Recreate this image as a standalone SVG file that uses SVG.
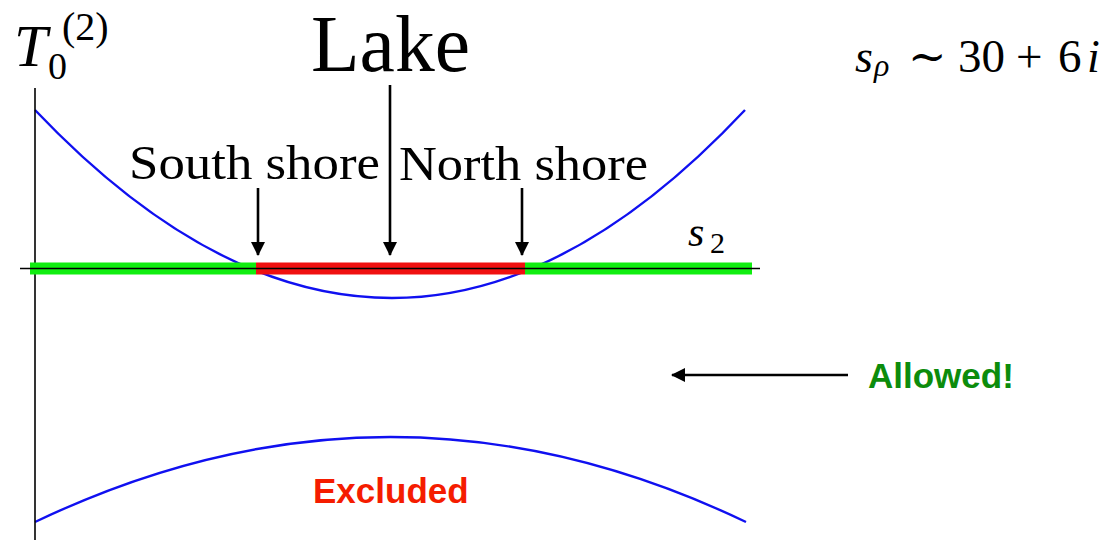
<svg xmlns="http://www.w3.org/2000/svg" width="1111" height="540" viewBox="0 0 1111 540">
<defs>
<style>
.serif{font-family:"Liberation Serif","DejaVu Serif",serif;fill:#000}
.it{font-style:italic}
.sans{font-family:"Liberation Sans",Arial,sans-serif;font-weight:bold}
.axis{stroke:#000;stroke-width:1.6;fill:none}
.curve{stroke:#1010f0;stroke-width:2.4;fill:none}
.arrow{stroke:#000;stroke-width:2.6;fill:none}
.ok{fill:#10ee10}
.bad{fill:#f01010}
</style>
<marker id="ah" viewBox="0 0 14 14" refX="13" refY="7" markerWidth="14" markerHeight="14" markerUnits="userSpaceOnUse" orient="auto">
<path d="M0,0 L14,7 L0,14 Z" fill="#000"/>
</marker>
</defs>
<rect width="1111" height="540" fill="#fff"/>

<g id="plot">
<path class="curve" d="M35,110 Q213.5,298 392,298 Q568.5,298 745,110"/>
<path class="curve" d="M35,522 Q390.5,352 746,522"/>
<line class="axis" x1="35" y1="88" x2="35" y2="540"/>
<rect class="ok" x="30" y="262.5" width="226" height="12"/>
<rect class="ok" x="525" y="262.5" width="227" height="12"/>
<rect class="bad" x="256" y="262.5" width="269" height="12"/>
<line class="axis" x1="20" y1="268.5" x2="760" y2="268.5" stroke-width="1.4"/>
</g>

<g id="connectors">
<line class="arrow" x1="258" y1="188" x2="258" y2="255" marker-end="url(#ah)"/>
<line class="arrow" x1="390" y1="85" x2="390" y2="255" marker-end="url(#ah)"/>
<line class="arrow" x1="522" y1="188" x2="522" y2="255" marker-end="url(#ah)"/>
<line class="arrow" x1="848" y1="375" x2="672" y2="375" marker-end="url(#ah)"/>
</g>

<g id="label-T">
<text class="serif it" x="14" y="66" font-size="60">T</text>
<text class="serif" x="48" y="79" font-size="38">0</text>
<text class="serif" x="62" y="40" font-size="40">(2)</text>
</g>

<g id="label-lake">
<text class="serif" x="311" y="71" font-size="80" textLength="159" lengthAdjust="spacingAndGlyphs">Lake</text>
</g>

<g id="label-south">
<text class="serif" x="129" y="179" font-size="48" textLength="251" lengthAdjust="spacingAndGlyphs">South shore</text>
</g>

<g id="label-north">
<text class="serif" x="399" y="180" font-size="48" textLength="249" lengthAdjust="spacingAndGlyphs">North shore</text>
</g>

<g id="label-s2">
<text class="serif it" x="688" y="246" font-size="42">s</text>
<text class="serif" x="710" y="253" font-size="30">2</text>
</g>

<g id="label-srho">
<text class="serif it" x="855" y="72" font-size="46">s</text>
<text class="serif it" x="874" y="76" font-size="32">ρ</text>
<text class="serif" x="908" y="72" font-size="46">∼</text>
<text class="serif" x="958" y="72" font-size="47">30</text>
<text class="serif" x="1016" y="72" font-size="47">+</text>
<text class="serif" x="1058" y="72" font-size="47">6</text>
<text class="serif it" x="1087" y="72" font-size="46">i</text>
</g>

<g id="label-allowed">
<text class="sans" x="868" y="388" font-size="35" fill="#0c8c0c">Allowed!</text>
</g>

<g id="label-excluded">
<text class="sans" x="313" y="503" font-size="35" fill="#f51c00">Excluded</text>
</g>
</svg>
